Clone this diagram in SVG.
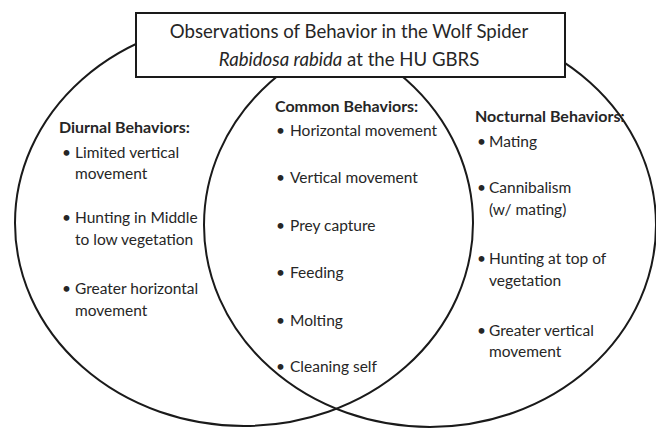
<svg xmlns="http://www.w3.org/2000/svg" width="656" height="428" viewBox="0 0 656 428">
<style>
.ring{fill:none;stroke:#1a1a1a;stroke-width:2}
.box{fill:#fff;stroke:#1a1a1a;stroke-width:2}
text{font-family:Lato,"Open Sans","Liberation Sans",sans-serif;fill:#262626}
.t{font-size:18.6px}
.h{font-size:16px;font-weight:bold}
.i{font-size:15.5px}
</style>
<rect width="656" height="428" fill="#fff"/>
<g id="sets">
<ellipse id="diurnal-set" class="ring" cx="244" cy="223" rx="229" ry="203"/>
<ellipse id="nocturnal-set" class="ring" cx="430" cy="225" rx="226" ry="202"/>
</g>
<g id="connectors"></g>
<g id="title">
<rect class="box" x="136" y="13" width="429" height="64"/>
<text class="t" x="349" y="38" text-anchor="middle">Observations of Behavior in the Wolf Spider</text>
<text class="t" x="349" y="66" text-anchor="middle"><tspan font-style="italic">Rabidosa rabida</tspan> at the HU GBRS</text>
</g>
<g id="diurnal">
<text class="h" x="59" y="133">Diurnal Behaviors:</text>
<text class="i" x="62" y="158">•</text>
<text class="i" x="75" y="158">Limited vertical</text>
<text class="i" x="75" y="179">movement</text>
<text class="i" x="62" y="223">•</text>
<text class="i" x="75" y="223">Hunting in Middle</text>
<text class="i" x="75" y="245">to low vegetation</text>
<text class="i" x="62" y="294">•</text>
<text class="i" x="75" y="294">Greater horizontal</text>
<text class="i" x="75" y="316">movement</text>
</g>
<g id="common">
<text class="h" x="275" y="112">Common Behaviors:</text>
<text class="i" x="276" y="136">•</text>
<text class="i" x="290" y="136">Horizontal movement</text>
<text class="i" x="276" y="183">•</text>
<text class="i" x="290" y="183">Vertical movement</text>
<text class="i" x="276" y="231">•</text>
<text class="i" x="290" y="231">Prey capture</text>
<text class="i" x="276" y="278">•</text>
<text class="i" x="290" y="278">Feeding</text>
<text class="i" x="276" y="326">•</text>
<text class="i" x="290" y="326">Molting</text>
<text class="i" x="276" y="372">•</text>
<text class="i" x="290" y="372">Cleaning self</text>
</g>
<g id="nocturnal">
<text class="h" x="475" y="122">Nocturnal Behaviors:</text>
<text class="i" x="477" y="147">•</text>
<text class="i" x="489" y="147">Mating</text>
<text class="i" x="477" y="193">•</text>
<text class="i" x="489" y="193">Cannibalism</text>
<text class="i" x="489" y="215">(w/ mating)</text>
<text class="i" x="477" y="264">•</text>
<text class="i" x="489" y="264">Hunting at top of</text>
<text class="i" x="489" y="286">vegetation</text>
<text class="i" x="477" y="336">•</text>
<text class="i" x="489" y="336">Greater vertical</text>
<text class="i" x="489" y="357">movement</text>
</g>
</svg>
